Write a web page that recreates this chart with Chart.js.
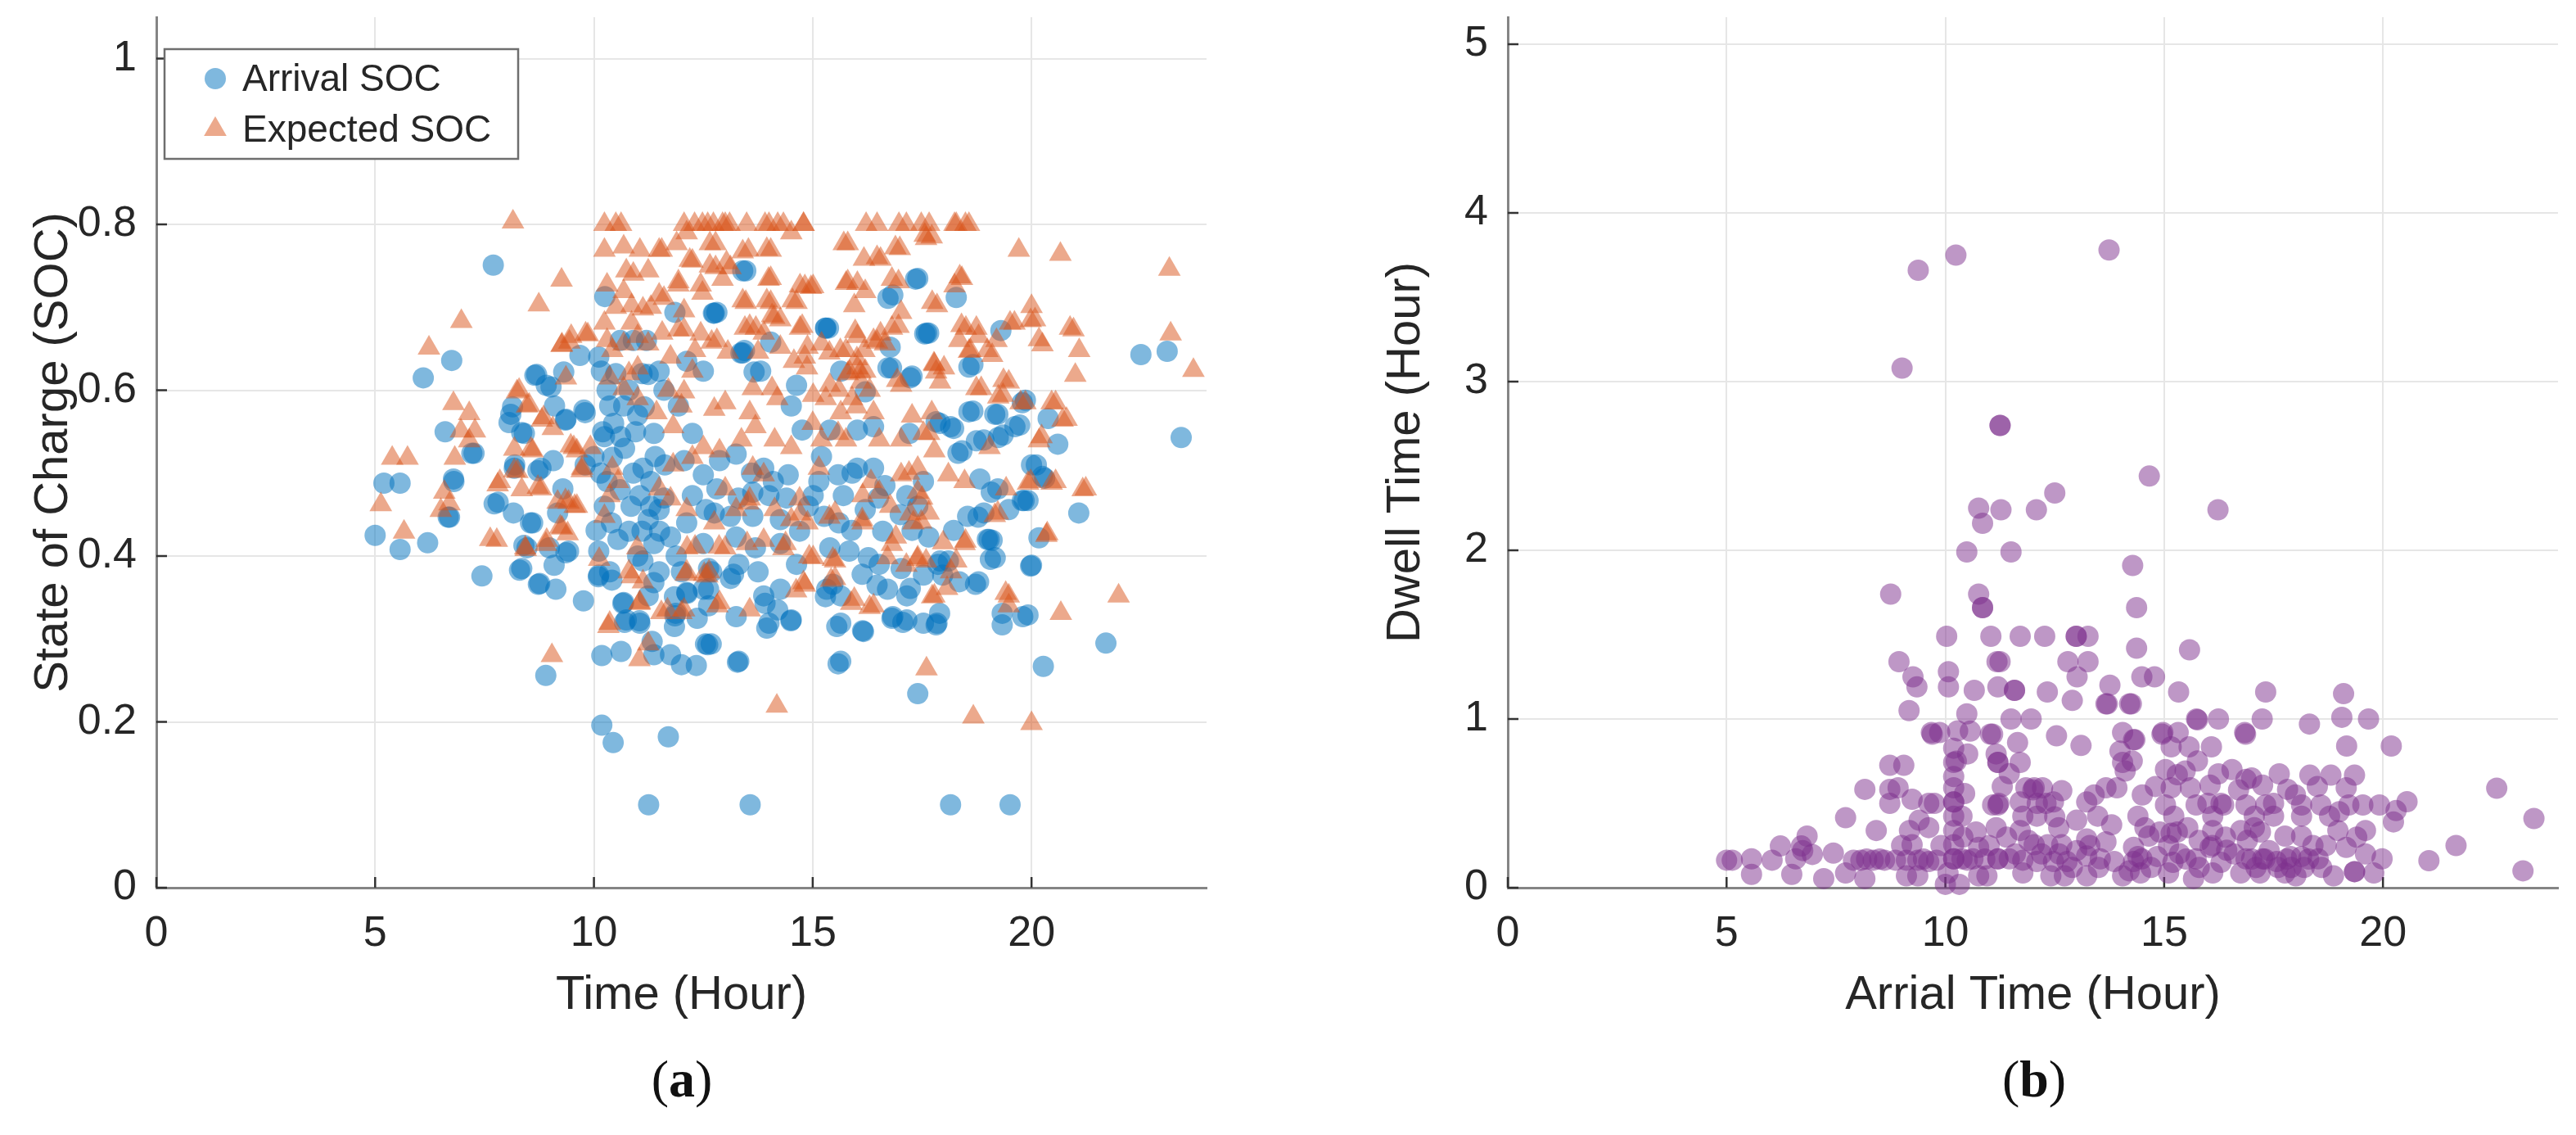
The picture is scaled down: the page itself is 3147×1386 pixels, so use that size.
<!DOCTYPE html>
<html>
<head>
<meta charset="utf-8">
<script src="https://cdn.jsdelivr.net/npm/chart.js@4.4.1/dist/chart.umd.min.js"></script>
<style>
  html, body { margin: 0; padding: 0; background: #fff; }
  body { width: 3147px; height: 1386px; position: relative; overflow: hidden; }
  .panel { position: absolute; top: 0; width: 1496px; height: 1260px; }
  .caption {
    position: absolute; top: 1281px; width: 200px; text-align: center;
    font-family: "Liberation Serif", "DejaVu Serif", serif; font-size: 64px; color: #111;
  }
</style>
</head>
<body>
<div class="panel" style="left:0px"><canvas id="socChart" width="1496" height="1260"></canvas></div>
<div class="panel" style="left:1651px"><canvas id="dwellChart" width="1496" height="1260"></canvas></div>
<div class="caption" style="left:733px">(<b>a</b>)</div>
<div class="caption" style="left:2385px">(<b>b</b>)</div>

<script>
/* ================== DATA ================== */
const xTicks = [0, 5, 10, 15, 20];
const socTicks = [0, 0.2, 0.4, 0.6, 0.8, 1];
const dwellTicks = [0, 1, 2, 3, 4, 5];

const seriesLabels = ["Arrival SOC", "Expected SOC"];

// [hour, soc]
const arrivalSoc = [
  [5.0,0.425],[5.2,0.488],[5.57,0.488],[5.57,0.408],[6.1,0.615],[6.2,0.416],[6.6,0.55],[6.75,0.636],[6.7,0.447],[6.8,0.49],
  [7.26,0.524],[7.44,0.376],[7.7,0.751],[7.72,0.463],[8.1,0.571],[8.16,0.452],[8.3,0.383],[8.65,0.618],[8.73,0.366],[8.9,0.256],
  [9.13,0.36],[9.76,0.346],[10.18,0.196],[10.44,0.175],[10.18,0.28],[10.62,0.285],[11.25,0.1],[11.7,0.182],[11.33,0.297],[11.37,0.281],
  [11.75,0.281],[12.0,0.269],[12.34,0.268],[12.6,0.293],[13.28,0.272],[13.57,0.1],[15.58,0.27],[16.16,0.309],[17.4,0.234],[18.15,0.1],
  [19.51,0.1],[20.27,0.267],[21.7,0.295],[22.5,0.643],[23.1,0.647],[23.42,0.543],[21.08,0.452],[20.6,0.535],[20.38,0.566],[19.86,0.588],
  [19.3,0.672],[17.35,0.734],[17.6,0.669],[18.28,0.712],[15.3,0.675],[13.4,0.645],[13.4,0.744],[12.75,0.693],[11.85,0.694],[10.25,0.713],
  [8.69,0.619],[9.1,0.581],[8.91,0.606],[9.36,0.565],[8.41,0.548],[8.19,0.51],[8.79,0.506],[7.81,0.465],[8.6,0.44],[8.47,0.41],
  [8.98,0.41],[8.35,0.385],[8.76,0.367],[9.42,0.406],[9.17,0.452],[9.29,0.481],[9.07,0.515],[9.8,0.573],[9.8,0.51],[10.17,0.623],
  [10.36,0.581],[10.61,0.544],[10.24,0.544],[10.42,0.519],[10.3,0.49],[10.24,0.46],[10.05,0.431],[10.11,0.406],[10.36,0.381],[10.11,0.377],
  [10.74,0.323],[11.05,0.319],[10.68,0.344],[11.24,0.352],[11.12,0.394],[11.49,0.381],[11.37,0.415],[11.75,0.423],[12.0,0.381],[12.12,0.356],
  [12.5,0.36],[11.87,0.331],[11.24,0.444],[11.05,0.473],[11.49,0.456],[11.12,0.506],[11.62,0.51],[11.37,0.548],[11.49,0.623],[11.24,0.619],
  [12.12,0.635],[12.5,0.623],[11.93,0.581],[12.25,0.548],[12.06,0.515],[12.5,0.498],[12.25,0.473],[12.56,0.456],[12.12,0.44],[12.5,0.415],
  [12.69,0.381],[10.68,0.581],[10.11,0.64],[9.68,0.642],[9.31,0.622],[9.02,0.604],[8.14,0.58],[8.06,0.561],[8.35,0.549],[9.35,0.564],
  [9.77,0.576],[7.21,0.524],[6.79,0.493],[6.67,0.447],[8.55,0.44],[8.18,0.506],[8.72,0.503],[9.36,0.404],[9.09,0.389],[8.4,0.413],
  [10.7,0.32],[11.04,0.322],[11.84,0.315],[10.66,0.343],[10.1,0.375],[10.41,0.371],[11.37,0.368],[11.84,0.351],[12.36,0.325],[11.88,0.4],
  [12.13,0.355],[12.55,0.294],
  [10.2,0.55],[10.3,0.6],[10.5,0.62],[10.8,0.6],[11.0,0.57],[11.1,0.62],[10.9,0.5],[10.6,0.48],[11.3,0.49],[11.6,0.47],
  [10.4,0.44],[10.8,0.43],[11.1,0.43],[11.3,0.46],[11.6,0.6],[10.9,0.66],[10.6,0.66],[11.2,0.66],
  [10.0,0.52],[10.15,0.5],[10.45,0.56],[10.7,0.53],[10.95,0.55],[11.15,0.58],[11.4,0.52],[10.55,0.42],[10.85,0.46],[11.0,0.4],
  [11.5,0.43],[13.6,0.5],[14.1,0.49],[14.4,0.47],[14.9,0.46],[15.2,0.52],[15.9,0.5],[16.5,0.47],[13.3,0.47],[14.7,0.43],
  [15.6,0.44],[16.6,0.43],[17.0,0.45],[17.4,0.46],
  [13.47,0.744],[12.81,0.694],[15.36,0.675],[17.4,0.735],[16.83,0.715],[17.65,0.669],[13.44,0.648],[13.81,0.623],[14.04,0.658],[16.8,0.627],
  [17.27,0.617],[16.77,0.652],[14.63,0.606],[15.64,0.623],[16.2,0.598],[14.51,0.581],[14.76,0.552],[15.39,0.552],[16.02,0.552],[16.39,0.556],
  [12.87,0.515],[13.25,0.523],[13.88,0.506],[14.44,0.498],[15.14,0.49],[15.58,0.498],[16.02,0.506],[16.39,0.506],[17.21,0.548],[12.81,0.481],
  [13.63,0.477],[14.0,0.473],[15.01,0.473],[15.7,0.473],[16.2,0.456],[16.65,0.485],[17.15,0.473],[17.53,0.49],[12.75,0.452],[13.12,0.448],
  [13.63,0.448],[14.26,0.444],[15.26,0.448],[15.89,0.431],[17.27,0.431],[17.65,0.423],[13.25,0.423],[13.69,0.41],[14.26,0.415],[15.39,0.41],
  [15.83,0.406],[16.27,0.398],[16.52,0.39],[17.02,0.385],[17.53,0.377],[12.62,0.385],[13.31,0.39],[13.75,0.381],[14.63,0.39],[12.62,0.36],
  [13.12,0.373],[13.88,0.352],[14.26,0.36],[15.32,0.36],[15.64,0.352],[16.71,0.36],[17.15,0.352],[12.62,0.34],[13.25,0.327],[14.0,0.319],
  [14.51,0.323],[15.64,0.319],[16.14,0.31],[16.83,0.327],[17.15,0.323],[17.53,0.319],[12.68,0.294],[13.31,0.273],[15.64,0.273],
  [13.95,0.313],[14.5,0.322],[15.55,0.315],[17.06,0.32],[17.82,0.317],[19.33,0.317],[19.8,0.327],[19.33,0.331],[19.98,0.388],[20.17,0.422],
  [19.06,0.396],[18.72,0.366],[17.9,0.331],[16.81,0.325],[16.13,0.378],[16.47,0.365],[17.23,0.361],[15.29,0.351],[15.46,0.366],[13.91,0.343],
  [14.2,0.335],[13.19,0.378],[11.85,0.328],[17.86,0.39],[18.1,0.394],[18.99,0.42],[19.83,0.467],
  [18.66,0.631],[18.66,0.575],[19.23,0.571],[19.73,0.558],[18.22,0.554],[17.91,0.56],[18.91,0.54],[19.35,0.546],[18.41,0.527],[20.11,0.51],
  [20.3,0.494],[19.23,0.481],[19.92,0.467],[19.48,0.456],[18.54,0.448],[18.91,0.452],[19.1,0.419],[18.22,0.431],[17.91,0.394],[18.79,0.369],
  [18.35,0.369],[17.97,0.377],[19.17,0.398],[19.92,0.329],[17.84,0.319],
  [18.57,0.628],[17.56,0.668],[17.23,0.615],[16.72,0.627],[15.29,0.675],[13.36,0.645],[12.73,0.693],[16.72,0.711],[20.0,0.51],[20.25,0.496],
  [19.79,0.467],[18.32,0.524],[18.15,0.556],[17.82,0.562],[18.74,0.539],[18.82,0.493],[19.08,0.477],[18.78,0.447],[19.03,0.42],[20.0,0.389],
  [13.66,0.622],[19.62,0.556],[19.24,0.543],[19.16,0.571],[18.57,0.574],[19.79,0.585]
];

// [hour, soc]
const expectedSoc = [
  [8.15,0.803],[10.24,0.8],[10.5,0.8],[10.62,0.8],[12.06,0.8],[12.3,0.8],[12.48,0.8],[12.6,0.8],[12.73,0.8],[12.94,0.8],
  [13.0,0.8],[13.1,0.8],[13.49,0.8],[13.91,0.8],[14.0,0.8],[14.2,0.8],[14.33,0.8],[14.79,0.8],[14.79,0.8],[16.22,0.8],
  [16.47,0.8],[16.97,0.8],[17.14,0.8],[17.48,0.8],[18.24,0.8],[18.49,0.8],[18.57,0.8],[17.66,0.8],[18.28,0.8],
  [9.26,0.733],[8.74,0.703],[6.97,0.683],[6.23,0.651],[8.24,0.598],[6.79,0.584],[7.15,0.572],[6.96,0.551],[7.28,0.551],[7.15,0.539],
  [6.82,0.518],[5.39,0.518],[5.74,0.518],[8.52,0.582],[8.81,0.564],[9.06,0.554],[8.18,0.529],[8.56,0.529],[7.8,0.486],[6.58,0.477],
  [6.7,0.463],[6.5,0.455],[5.13,0.462],[5.66,0.429],[7.63,0.42],[8.35,0.48],[8.18,0.503],[8.72,0.483],[9.47,0.533],[9.35,0.467],
  [9.56,0.46],[9.27,0.434],[8.43,0.41],[9.72,0.503],[9.27,0.655],[9.44,0.658],[9.81,0.668],[9.04,0.28],[8.9,0.414],[9.4,0.427],
  [10.12,0.396],[10.33,0.315],[11.04,0.275],[10.87,0.375],[11.04,0.343],[11.54,0.332],[12.0,0.332],[12.13,0.41],[12.59,0.376],
  [9.48,0.665],[9.26,0.654],[9.86,0.667],[8.29,0.6],[8.47,0.581],[8.85,0.567],[9.36,0.615],[8.6,0.527],[9.54,0.531],[9.73,0.506],
  [9.17,0.465],[9.42,0.465],[9.61,0.46],[7.85,0.49],[8.25,0.502],[8.79,0.481],[9.23,0.435],[8.92,0.419],[8.44,0.408],[7.78,0.419],
  [10.24,0.769],[10.68,0.773],[11.05,0.769],[11.49,0.769],[11.24,0.744],[10.74,0.744],[10.68,0.719],[10.3,0.727],[10.86,0.702],[11.12,0.698],
  [10.86,0.681],[10.24,0.681],[10.68,0.656],[11.0,0.665],[11.24,0.656],[11.56,0.669],[10.42,0.648],[11.49,0.715],[11.93,0.731],[12.25,0.756],
  [12.12,0.79],[12.06,0.673],[12.31,0.648],[11.75,0.64],[12.25,0.623],[12.06,0.598],[12.0,0.581],[11.81,0.556],[11.43,0.573],[11.0,0.59],
  [10.68,0.602],[10.36,0.615],[11.0,0.627],[9.61,0.527],[9.92,0.531],[10.42,0.506],[10.55,0.49],[10.36,0.473],[10.24,0.448],[10.99,0.41],
  [10.8,0.381],[11.12,0.369],[11.05,0.344],[10.36,0.319],[12.06,0.335],[12.12,0.381],[12.63,0.381],[11.49,0.481],[11.75,0.469],[11.81,0.51],
  [12.25,0.519],[12.5,0.531],[12.12,0.456],[11.24,0.294],
  [10.5,0.7],[10.8,0.62],[11.3,0.7],[10.3,0.66],[10.9,0.74],[11.7,0.6],[15.3,0.59],[16.3,0.6],[15.0,0.56],[17.2,0.5],
  [17.5,0.47],[17.3,0.44],
  [12.78,0.777],[13.53,0.769],[14.04,0.769],[14.51,0.79],[15.8,0.777],[16.17,0.758],[16.55,0.758],[16.99,0.771],[17.59,0.783],[12.78,0.748],
  [13.12,0.748],[14.04,0.735],[14.82,0.725],[15.01,0.725],[13.47,0.706],[14.04,0.706],[14.63,0.706],[15.76,0.729],[16.02,0.729],[16.2,0.719],
  [16.96,0.731],[15.95,0.702],[17.02,0.694],[16.96,0.677],[13.56,0.677],[14.07,0.69],[14.26,0.685],[14.76,0.677],[13.88,0.669],[12.81,0.66],
  [13.06,0.646],[13.75,0.646],[14.26,0.652],[14.88,0.652],[15.2,0.656],[16.02,0.665],[16.39,0.66],[16.65,0.656],[15.76,0.648],[14.57,0.635],
  [14.82,0.64],[16.02,0.627],[16.2,0.623],[17.02,0.606],[15.39,0.606],[15.01,0.594],[14.07,0.602],[13.63,0.602],[14.19,0.59],[13.0,0.585],
  [12.75,0.577],[13.56,0.573],[15.64,0.573],[16.39,0.573],[17.27,0.569],[17.53,0.548],[15.58,0.548],[15.76,0.54],[15.2,0.54],[14.51,0.531],
  [14.13,0.54],[13.69,0.556],[13.37,0.54],[12.87,0.527],[16.52,0.54],[17.02,0.54],[17.4,0.506],[17.02,0.498],[16.33,0.49],[15.14,0.506],
  [13.88,0.498],[13.63,0.506],[13.0,0.481],[13.25,0.456],[13.56,0.469],[14.13,0.456],[14.7,0.469],[14.51,0.444],[14.88,0.44],[15.51,0.452],
  [16.14,0.473],[16.52,0.477],[16.77,0.46],[17.4,0.477],[17.65,0.452],[12.75,0.44],[13.0,0.41],[13.5,0.415],[13.88,0.419],[14.38,0.415],
  [16.14,0.44],[16.9,0.423],[16.71,0.398],[17.4,0.398],[15.51,0.394],[15.01,0.398],[15.51,0.373],[14.82,0.365],[13.56,0.335],[12.87,0.344],
  [15.95,0.348],[16.39,0.34],[17.6,0.264],[14.18,0.219],
  [19.71,0.769],[20.66,0.764],[23.15,0.746],[23.18,0.668],[23.7,0.624],[21.09,0.648],[20.88,0.675],[21.0,0.618],[21.17,0.48],[20.0,0.701],
  [19.98,0.684],[20.17,0.661],[20.25,0.655],[20.46,0.585],[20.71,0.564],[20.17,0.539],[20.46,0.488],[19.92,0.488],[20.34,0.425],[19.51,0.681],
  [18.74,0.675],[18.4,0.678],[18.99,0.648],[18.57,0.647],[19.36,0.612],[18.74,0.602],[19.24,0.592],[19.75,0.585],[18.36,0.737],[18.24,0.726],
  [17.73,0.706],[16.81,0.734],[16.89,0.772],[16.47,0.76],[15.71,0.777],[17.56,0.787],[15.8,0.731],[16.55,0.668],[16.81,0.675],[15.97,0.671],
  [14.71,0.726],[14.96,0.724],[14.54,0.708],[13.99,0.734],[13.4,0.708],[13.95,0.708],[14.71,0.675],[14.12,0.688],[13.7,0.675],[13.45,0.675],
  [11.93,0.673],[12.44,0.668],[12.69,0.658],[12.19,0.757],[12.65,0.75],[13.03,0.754],[13.4,0.767],[13.95,0.77],[11.89,0.777],[12.65,0.777],
  [11.55,0.769],[11.93,0.727],[12.44,0.727],[12.94,0.734],[12.48,0.717],[11.6,0.711],[12.06,0.696],[14.87,0.627],[15.84,0.622],[16.09,0.622],
  [16.01,0.638],[15.38,0.645],[15.63,0.648],[16.18,0.648],[16.47,0.658],[16.93,0.612],[17.77,0.632],[17.82,0.622],
  [17.72,0.785],[18.41,0.735],[17.84,0.702],[20.08,0.685],[19.61,0.681],[20.96,0.673],[18.5,0.675],[18.79,0.665],[18.35,0.66],[19.2,0.66],
  [18.6,0.648],[19.1,0.642],[17.78,0.631],[18.0,0.627],[17.91,0.61],[18.85,0.602],[19.48,0.61],[19.35,0.594],[19.86,0.585],[20.55,0.585],
  [20.8,0.565],[20.23,0.544],[17.72,0.573],[17.66,0.548],[17.78,0.527],[19.04,0.531],[18.1,0.498],[18.47,0.49],[19.42,0.481],[19.98,0.49],
  [20.55,0.49],[21.24,0.481],[19.23,0.452],[20.36,0.427],[18.47,0.415],[18.28,0.394],[17.59,0.394],[18.16,0.381],[17.78,0.352],[19.48,0.352],
  [19.48,0.34],[20.67,0.331],[21.99,0.352],
  [18.67,0.206],[20.0,0.198],[19.41,0.355],[19.16,0.449],[17.73,0.351],[18.07,0.361],[18.49,0.418],[17.98,0.416],[17.39,0.396],[17.14,0.389],
  [16.81,0.414],[16.3,0.338],[15.88,0.343],[15.46,0.396],[15.42,0.371],[14.92,0.399],[14.79,0.368],[14.62,0.358],[14.33,0.409],[12.82,0.34],
  [12.52,0.378],[12.1,0.378],[12.31,0.411],[12.86,0.411],[11.68,0.335],[13.53,0.464],[14.71,0.451],[15.38,0.447],[16.13,0.444],[17.23,0.451],
  [17.48,0.441],[15.6,0.6],[15.9,0.59],[16.1,0.61],[16.0,0.58],[15.8,0.62]
];

// [arrival hour, dwell hours]
const dwellTime = [
  [9.38,3.66],[10.24,3.75],[13.74,3.78],[9.01,3.08],[11.25,2.74],[11.25,2.74],[14.66,2.44],[12.5,2.34],[12.08,2.24],[10.76,2.25],
  [11.27,2.24],[10.85,2.16],[16.23,2.24],[10.49,1.99],[11.5,1.99],[14.28,1.91],[8.75,1.74],[10.76,1.74],[10.85,1.66],[10.85,1.66],
  [14.37,1.66],[10.03,1.49],[11.04,1.49],[11.71,1.49],[12.27,1.49],[12.99,1.49],[12.99,1.49],[13.26,1.49],[14.37,1.42],[15.58,1.41],
  [8.94,1.34],[11.18,1.34],[11.25,1.34],[12.8,1.34],[13.26,1.34],[9.26,1.25],[9.35,1.19],[10.07,1.28],[10.07,1.19],[13.01,1.25],
  [14.49,1.25],[14.78,1.25],[13.76,1.2],[15.33,1.16],[17.32,1.16],[19.1,1.15],[10.66,1.17],[11.2,1.19],[11.58,1.17],[11.58,1.17],
  [12.33,1.16],[9.17,1.05],[10.49,1.03],[12.9,1.11],[13.67,1.09],[13.7,1.09],[14.21,1.09],[14.25,1.09],[15.74,1.0],[16.24,1.0],
  [17.24,1.0],[18.32,0.97],[19.06,1.01],[19.67,1.0],[20.19,0.84],[19.17,0.84],[16.86,0.91],[14.95,0.91],[12.54,0.9],[9.7,0.91],
  [10.28,0.93],[11.5,1.0],[11.96,1.0],[22.6,0.59],[23.45,0.41],[23.2,0.1],[21.67,0.25],[21.05,0.16],[20.55,0.51],
  [5.0,0.163],[5.13,0.163],[5.57,0.171],[5.57,0.079],[6.04,0.163],[6.23,0.247],[6.49,0.079],[6.71,0.247],[6.74,0.22],[6.84,0.306],
  [6.96,0.197],[6.58,0.171],[7.22,0.054],[7.44,0.205],[7.72,0.087],[7.72,0.415],[8.16,0.583],[8.42,0.339],[8.07,0.163],[8.16,0.054],
  [8.35,0.163],[8.73,0.583],[8.73,0.726],[9.05,0.726],[8.73,0.5],[8.92,0.592],[8.61,0.163],[8.86,0.163],[9.11,0.163],[9.18,0.339],
  [9.24,0.255],[9.37,0.163],[9.24,0.524],[9.11,0.07],[9.37,0.07],[9.62,0.5],[9.75,0.5],[9.68,0.92],[9.87,0.92],[9.62,0.356],
  [9.62,0.155],[10.19,0.827],[10.19,0.743],[10.19,0.659],[10.19,0.592],[10.19,0.508],[10.19,0.424],[10.19,0.339],[10.19,0.255],[10.19,0.171],
  [10.06,0.087],[10.0,0.02],[10.32,0.02],[10.38,0.424],[10.44,0.558],[10.38,0.171],[10.63,0.171],[10.76,0.239],[10.57,0.928],[10.51,0.793],
  [10.76,0.07],[11.08,0.91],[11.16,0.793],[11.2,0.743],[11.08,0.49],[11.2,0.49],[11.16,0.356],[11.2,0.171],[10.95,0.07],[11.46,0.171],
  [11.65,0.86],[11.71,0.743],[11.46,0.676],[11.71,0.508],[11.84,0.592],[12.03,0.592],[12.22,0.592],[12.47,0.508],[12.66,0.575],[11.77,0.424],
  [12.09,0.424],[12.59,0.356],[11.71,0.339],[12.03,0.255],[12.34,0.255],[12.66,0.255],[11.77,0.163],[12.09,0.155],[12.47,0.155],[12.78,0.155],
  [12.41,0.07],[12.72,0.07],[11.77,0.087],[13.1,0.843],[13.99,0.81],[14.05,0.743],[14.11,0.692],[13.92,0.592],[13.67,0.592],[13.23,0.508],
  [13.48,0.424],[13.8,0.373],[13.23,0.289],[13.67,0.272],[13.23,0.188],[13.54,0.171],[13.86,0.155],[14.3,0.239],[14.3,0.155],[13.23,0.07],
  [14.05,0.07],[14.56,0.356],[14.49,0.171],[14.3,0.877],[14.05,0.92],
  [10.19,0.508],[10.19,0.171],[10.25,0.75],[11.2,0.743],[11.22,0.5],[11.2,0.171],[11.03,0.91],[12.1,0.5],[12.3,0.5],[12.0,0.58],
  [15.76,0.995],[16.84,0.92],[14.97,0.92],[15.32,0.92],[14.33,0.877],[15.16,0.835],[15.57,0.835],[16.08,0.835],[15.76,0.751],[14.27,0.751],
  [15.03,0.7],[15.48,0.692],[16.55,0.7],[17.63,0.675],[18.33,0.667],[18.81,0.667],[19.35,0.667],[16.24,0.675],[16.87,0.642],[16.05,0.608],
  [15.6,0.592],[15.16,0.592],[17.25,0.608],[17.82,0.583],[19.16,0.592],[15.03,0.49],[15.73,0.49],[16.36,0.49],[16.87,0.49],[17.32,0.49],
  [18.14,0.49],[18.58,0.49],[19.22,0.49],[19.54,0.49],[19.92,0.49],[20.3,0.457],[14.4,0.424],[15.22,0.424],[16.11,0.424],[17.06,0.424],
  [17.5,0.424],[18.14,0.424],[18.78,0.424],[20.24,0.39],[14.65,0.306],[15.16,0.323],[15.54,0.356],[16.11,0.339],[16.75,0.339],[17.06,0.356],
  [17.76,0.306],[18.14,0.306],[18.97,0.339],[19.16,0.239],[19.6,0.339],[14.4,0.185],[14.84,0.185],[15.35,0.202],[15.73,0.171],[16.05,0.239],
  [16.43,0.222],[16.87,0.171],[17.25,0.171],[17.57,0.155],[17.89,0.185],[18.14,0.185],[18.52,0.171],[19.98,0.171],[14.46,0.087],[15.1,0.087],
  [15.67,0.054],[16.11,0.087],[16.75,0.087],[17.19,0.087],[17.76,0.087],[18.01,0.07],[18.87,0.07],[19.35,0.095],[19.35,0.095],[19.79,0.087],
  [15.1,0.25],[15.3,0.33],[15.5,0.17],[16.1,0.25],[17.0,0.17],[17.3,0.17],[17.6,0.12],[17.9,0.12],[18.3,0.17],[16.0,0.5],
  [16.3,0.5],[17.5,0.5],
  [7.9,0.163],[8.2,0.17],[8.5,0.17],[9.5,0.17],[9.8,0.163],[10.5,0.163],[10.9,0.17],[11.6,0.2],[12.2,0.2],[12.6,0.2],
  [13.0,0.22],[13.3,0.25],[12.9,0.12],[13.5,0.12],[14.2,0.1],[14.7,0.12],[15.2,0.15],[15.8,0.12],[16.3,0.15],[16.6,0.2],
  [17.1,0.12],[17.4,0.22],[17.8,0.17],[18.2,0.12],[18.6,0.12],[16.4,0.3],[16.9,0.28],[17.2,0.33],[18.4,0.25],[15.8,0.28],
  [14.9,0.33],[11.0,0.25],[11.4,0.3],[11.9,0.28],[12.5,0.42],[11.3,0.6],[10.7,0.33],[10.4,0.3],[9.9,0.25],[9.4,0.4],
  [9.0,0.25],[13.0,0.4],[13.4,0.55],[14.5,0.55],[14.8,0.6],[15.3,0.67],[16.7,0.58],[17.0,0.65],[18.0,0.55],[18.5,0.6],
  [19.0,0.45],[19.4,0.3],[18.7,0.25],[19.6,0.2]
];

/* ================== STYLE ================== */
const FONT = "'Liberation Sans', Arial, Helvetica, sans-serif";
const TEXT = "#262626";
const blueFill = "rgba(0,114,189,0.5)";
const orangeFill = "rgba(217,83,25,0.5)";
const purpleFill = "rgba(126,47,142,0.5)";

const toPoints = pairs => pairs.map(([x, y]) => ({ x, y }));

/* ================== PLUGINS ================== */
// MATLAB style ticks pointing into the axes
const innerTicks = {
  id: "innerTicks",
  beforeDatasetsDraw(chart) {
    const { ctx, chartArea } = chart;
    const xs = chart.scales.x, ys = chart.scales.y;
    ctx.save();
    ctx.strokeStyle = "#333";
    ctx.lineWidth = 2.5;
    ctx.beginPath();
    xs.ticks.forEach(t => {
      const px = xs.getPixelForValue(t.value);
      ctx.moveTo(px, chartArea.bottom);
      ctx.lineTo(px, chartArea.bottom - 13);
    });
    ys.ticks.forEach(t => {
      const py = ys.getPixelForValue(t.value);
      ctx.moveTo(chartArea.left, py);
      ctx.lineTo(chartArea.left + 13, py);
    });
    ctx.stroke();
    ctx.restore();
  }
};

// legend box drawn inside the plot (top-left)
const boxLegend = {
  id: "boxLegend",
  afterDraw(chart) {
    if (!chart.options.plugins.boxLegend) return;
    const { ctx } = chart;
    const box = { x: 201, y: 60, w: 432, h: 134 };
    ctx.save();
    ctx.fillStyle = "#fff";
    ctx.fillRect(box.x, box.y, box.w, box.h);
    ctx.strokeStyle = "#6e6e6e";
    ctx.lineWidth = 2.5;
    ctx.strokeRect(box.x, box.y, box.w, box.h);
    ctx.font = "46px " + FONT;
    ctx.textBaseline = "middle";
    chart.data.datasets.forEach((ds, i) => {
      const cx = box.x + 62;
      const cy = box.y + 36 + i * 62;
      ctx.fillStyle = ds.backgroundColor;
      ctx.beginPath();
      if (ds.pointStyle === "circle") {
        ctx.arc(cx, cy, ds.pointRadius, 0, Math.PI * 2);
      } else {
        const size = 3 * ds.pointRadius / Math.sqrt(3);
        const hh = size * Math.sqrt(3) / 2;
        ctx.moveTo(cx - size / 2, cy + hh / 3);
        ctx.lineTo(cx + size / 2, cy + hh / 3);
        ctx.lineTo(cx, cy - 2 * hh / 3);
        ctx.closePath();
      }
      ctx.fill();
      ctx.fillStyle = TEXT;
      ctx.fillText(ds.label, box.x + 95, cy + 2);
    });
    ctx.restore();
  }
};

/* ================== CHART BUILDER ================== */
function axisOptions(opts) {
  return {
    type: "linear",
    min: opts.min,
    max: opts.max,
    afterBuildTicks: scale => { scale.ticks = opts.ticks.map(v => ({ value: v })); },
    afterFit: scale => {
      if (opts.size.w) scale.width = opts.size.w;
      if (opts.size.h) scale.height = opts.size.h;
      scale.paddingTop = 0;
      scale.paddingBottom = 0;
      scale.paddingLeft = 0;
      scale.paddingRight = 0;
    },
    grid: { color: "#e6e6e6", lineWidth: 2, drawTicks: false },
    border: { color: "#858585", width: 3 },
    ticks: {
      color: TEXT,
      font: { family: FONT, size: 52 },
      padding: opts.tickPad,
      autoSkip: false,
      maxRotation: 0,
      callback: v => String(Math.round(v * 10) / 10)
    },
    title: {
      display: true,
      text: opts.title,
      color: TEXT,
      font: { family: FONT, size: 58 },
      padding: opts.titlePad
    }
  };
}

function makeChart(canvasId, datasets, cfg) {
  return new Chart(document.getElementById(canvasId), {
    type: "scatter",
    data: { datasets },
    options: {
      responsive: false,
      animation: false,
      devicePixelRatio: 1,
      layout: { padding: { top: 21, right: 22, left: 0, bottom: 0 } },
      plugins: {
        legend: { display: false },
        tooltip: { enabled: false },
        boxLegend: cfg.legend
      },
      scales: {
        x: axisOptions({
          min: 0, max: 24, ticks: xTicks, title: cfg.xTitle,
          size: { h: 176 }, tickPad: 25, titlePad: { bottom: 9 }
        }),
        y: axisOptions({
          min: 0, max: cfg.yMax, ticks: cfg.yTicks, title: cfg.yTitle,
          size: { w: 191 }, tickPad: 24, titlePad: { top: cfg.yTitlePad }
        })
      }
    },
    plugins: [innerTicks, boxLegend]
  });
}

/* ================== CHARTS ================== */
makeChart("socChart", [
  {
    label: seriesLabels[0],
    data: toPoints(arrivalSoc),
    pointStyle: "circle",
    pointRadius: 13,
    pointBorderWidth: 0,
    backgroundColor: blueFill,
    borderColor: "rgba(0,0,0,0)",
    clip: false,
    order: 1
  },
  {
    label: seriesLabels[1],
    data: toPoints(expectedSoc),
    pointStyle: "triangle",
    pointRadius: 16,
    pointBorderWidth: 0,
    backgroundColor: orangeFill,
    borderColor: "rgba(0,0,0,0)",
    clip: false,
    order: 0
  }
], {
  xTitle: "Time (Hour)",
  yTitle: "State of Charge (SOC)",
  yMax: 1.05,
  yTicks: socTicks,
  yTitlePad: 31,
  legend: true
});

makeChart("dwellChart", [
  {
    label: "Dwell Time",
    data: toPoints(dwellTime),
    pointStyle: "circle",
    pointRadius: 13,
    pointBorderWidth: 0,
    backgroundColor: purpleFill,
    borderColor: "rgba(0,0,0,0)",
    clip: false
  }
], {
  xTitle: "Arrial Time (Hour)",
  yTitle: "Dwell Time (Hour)",
  yMax: 5.16,
  yTicks: dwellTicks,
  yTitlePad: 32,
  legend: false
});
</script>
</body>
</html>
